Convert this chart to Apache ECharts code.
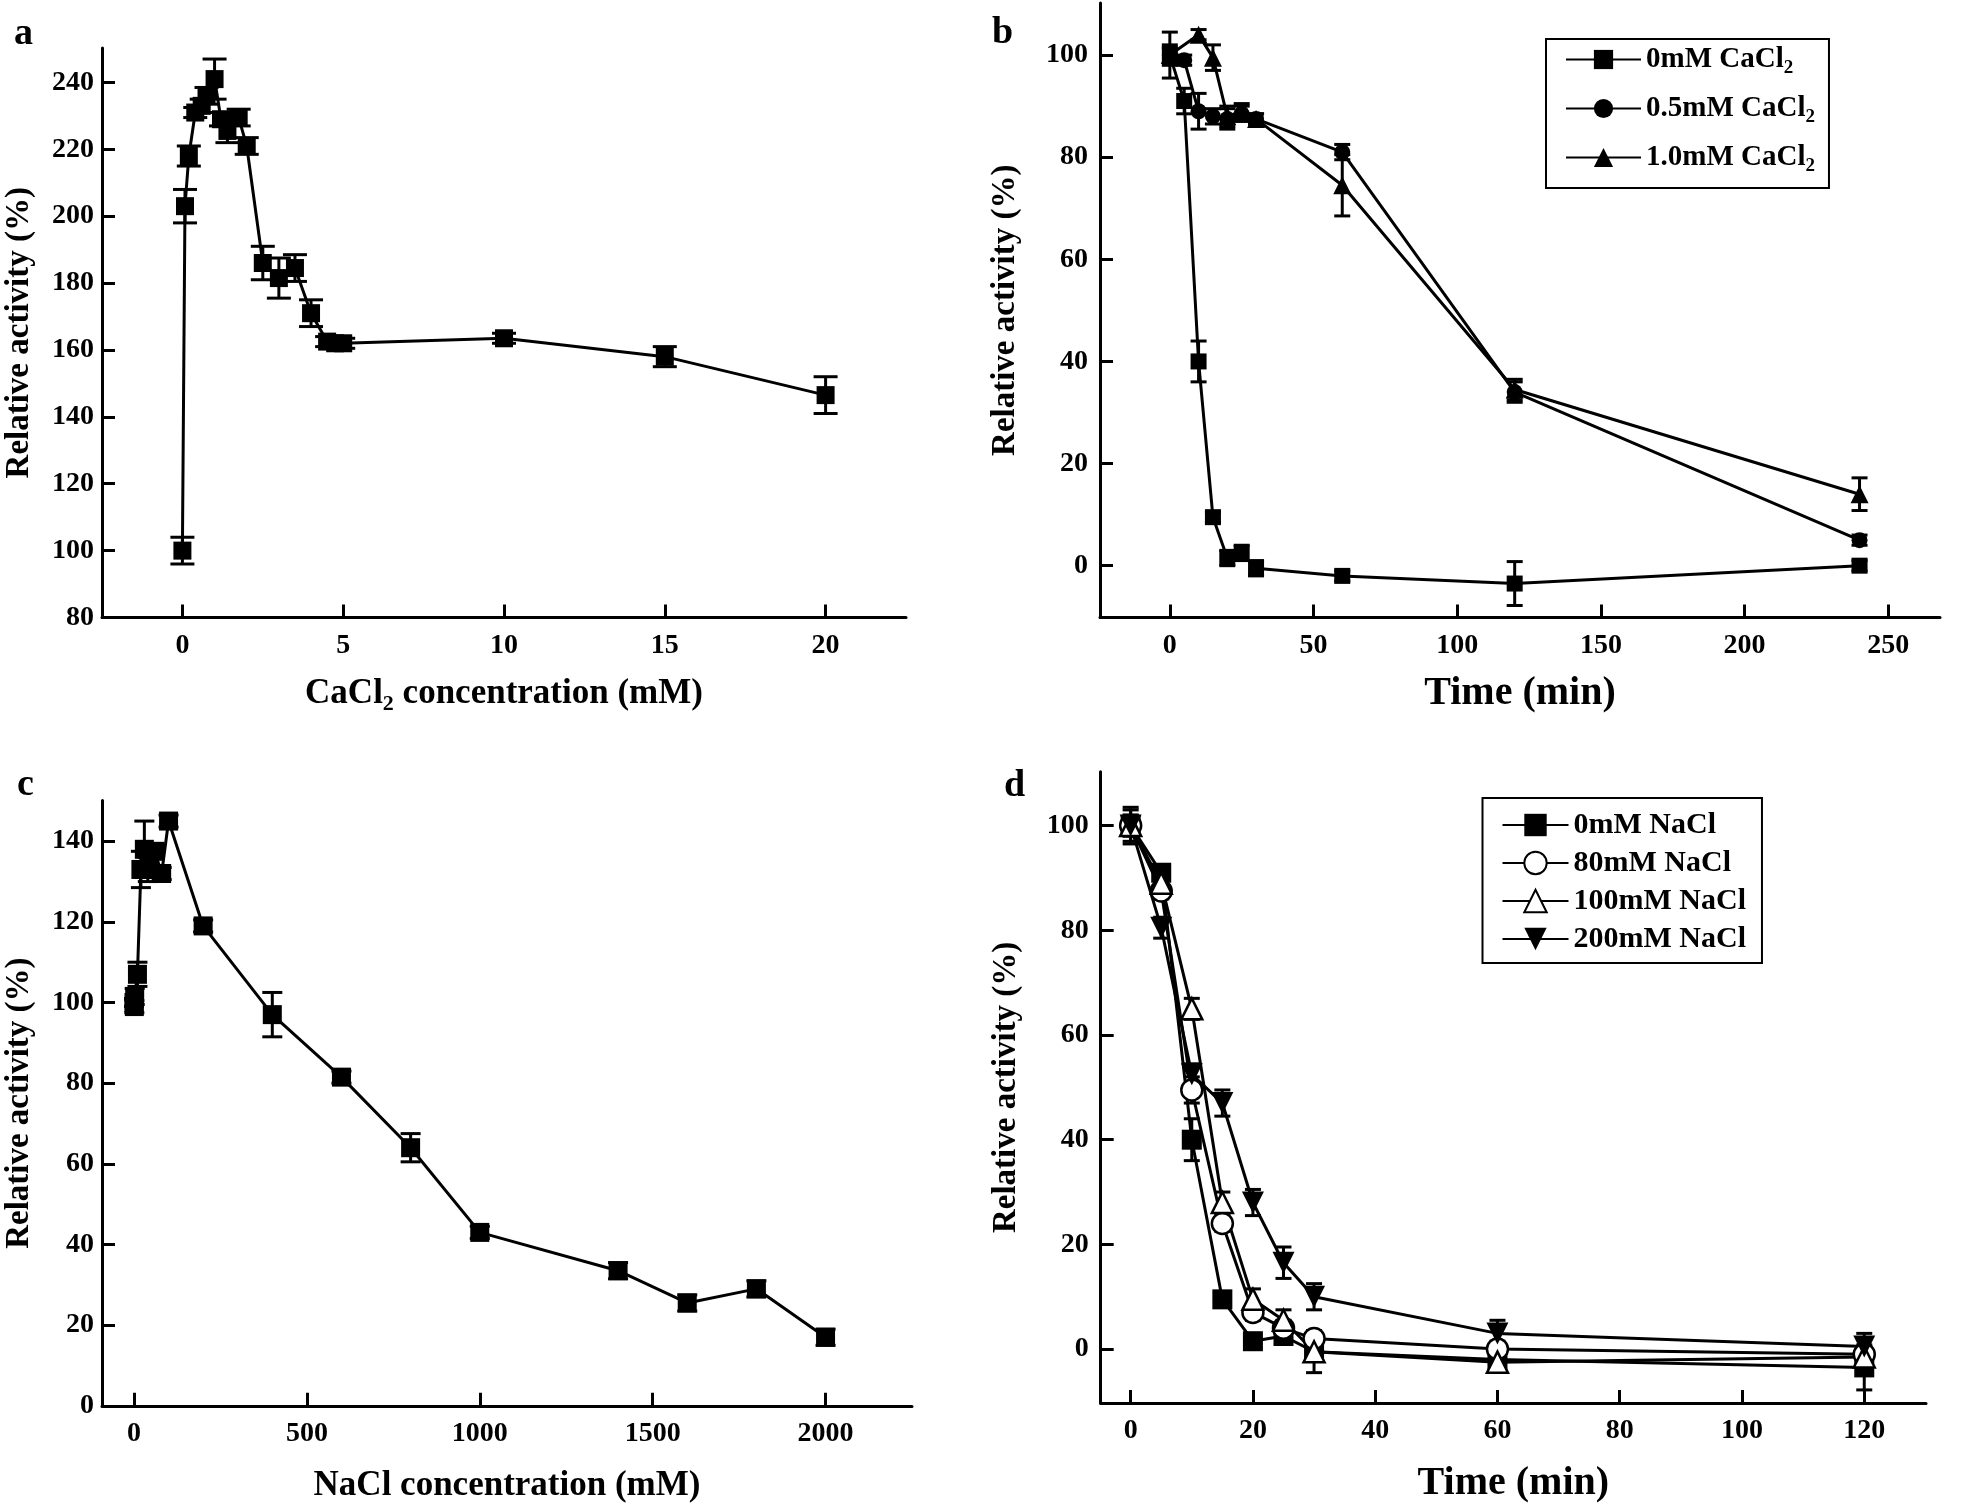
<!DOCTYPE html>
<html><head><meta charset="utf-8">
<script src="https://cdn.jsdelivr.net/npm/echarts@6/dist/echarts.min.js"></script>
<style>html,body{margin:0;padding:0;background:#fff}#c{width:1961px;height:1505px}</style>
</head><body><div id="c"></div>
<script>
// ---------- Panel a: CaCl2 concentration ----------
const caConc = [0, 0.08, 0.2, 0.4, 0.6, 0.75, 1.0, 1.2, 1.4, 1.75, 2.0, 2.5, 3.0, 3.5, 4.0, 4.5, 4.75, 5, 10, 15, 20];
const caActivity = [100, 203, 218, 231, 233, 236, 241, 229, 225.5, 229.5, 221, 186, 181.5, 184.5, 171, 162.5, 162, 162, 163.5, 158, 146.5];
const caErr = [4, 5, 3, 1.5, 2, 2.5, 6, 2, 3.5, 2.5, 2.5, 5, 6, 4, 4, 1.5, 1.5, 1.5, 1.5, 3, 5.5];
const aXTicks = [0, 5, 10, 15, 20];
const aYTicks = [80, 100, 120, 140, 160, 180, 200, 220, 240];

// ---------- Panel b: time course with CaCl2 ----------
const timeB = [0, 5, 10, 15, 20, 25, 30, 60, 120, 240];
const ca0Act = [100, 91, 40, 9.5, 1.5, 2.5, -0.5, -2, -3.5, 0];
const ca0Err = [4.5, 2.5, 4, 1, 1.5, 1.5, 1.5, 1, 4.3, 1];
const ca05Act = [100, 99, 89, 88, 87.5, 88.5, 87.5, 81, 34, 5];
const ca05Err = [1.5, 1, 3.5, 1.5, 2, 1.5, 1, 1.5, 2, 1];
const timeB10 = [0, 10, 15, 20, 25, 30, 60, 120, 240];
const ca10Act = [100, 104, 99.5, 88, 89, 87.5, 74.5, 34.5, 14];
const ca10Err = [2, 1, 2.5, 2, 1.5, 1, 6, 2, 3.2];
const bXTicks = [0, 50, 100, 150, 200, 250];
const bYTicks = [0, 20, 40, 60, 80, 100];

// ---------- Panel c: NaCl concentration ----------
const naConc = [0, 1, 2, 10, 20, 30, 40, 60, 80, 100, 200, 400, 600, 800, 1000, 1400, 1600, 1800, 2000];
const naActivity = [100, 99, 101.5, 107, 133, 138, 133, 137.5, 132, 145, 119, 97, 81.5, 64, 43, 33.5, 25.5, 29, 17];
const naErr = [1, 1.5, 2, 3, 4.5, 7, 3, 1.5, 1.5, 1.5, 1.5, 5.5, 1.5, 3.5, 1.5, 2, 2, 2, 2];
const cXTicks = [0, 500, 1000, 1500, 2000];
const cYTicks = [0, 20, 40, 60, 80, 100, 120, 140];

// ---------- Panel d: time course with NaCl ----------
const timeD = [0, 5, 10, 15, 20, 25, 30, 60, 120];
const na0Act = [100, 91, 40, 9.5, 1.5, 2.5, -0.5, -2, -3.5];
const na0Err = [3, 1.5, 4, 1, 1.5, 1.5, 1.5, 1, 4.3];
const na80Act = [100, 87.5, 49.5, 24, 7, 4, 2, 0, -1];
const na80Err = [2, 1.5, 2.5, 1.5, 1.5, 1.5, 1.5, 1.5, 1.5];
const na100Act = [100, 89, 65, 28, 9.5, 5.5, -0.5, -2.5, -1.5];
const na100Err = [2, 1.5, 2, 2, 2, 2, 4, 1.5, 1.5];
const na200Act = [100, 80.5, 52.5, 47, 28, 16.5, 10, 3, 0.5];
const na200Err = [3.5, 2, 2, 2.5, 2.5, 3, 2.5, 2.5, 2.5];
const dXTicks = [0, 20, 40, 60, 80, 100, 120];
const dYTicks = [0, 20, 40, 60, 80, 100];

const FONT = '"Liberation Serif", "Times New Roman", serif';
const pairs = (xs, ys) => xs.map((x, i) => [x, ys[i]]);
const triples = (xs, ys, es) => xs.map((x, i) => [x, ys[i], es[i]]);
const plain = v => String(v);

function xAx(gi, min, max, ticks, name, gap, nameSize) {
  return {
    gridIndex: gi, type: 'value', min, max,
    splitLine: { show: false },
    axisLine: { onZero: false, lineStyle: { color: '#000', width: 3 } },
    axisTick: { inside: true, length: 13, customValues: ticks, lineStyle: { color: '#000', width: 3 } },
    axisLabel: { customValues: ticks, formatter: plain, fontSize: 28, fontWeight: 'bold', fontFamily: FONT, color: '#000', margin: 14 },
    name, nameLocation: 'middle', nameGap: gap,
    nameTextStyle: { color: '#000', fontWeight: 'bold', fontFamily: FONT, fontSize: nameSize,
      rich: { n: { fontSize: nameSize, fontWeight: 'bold', fontFamily: FONT, color: '#000' },
              s: { fontSize: 22, fontWeight: 'bold', fontFamily: FONT, color: '#000', padding: [22, 0, 0, 0] } } }
  };
}
function yAx(gi, min, max, ticks, margin, gap) {
  return {
    gridIndex: gi, type: 'value', min, max,
    splitLine: { show: false },
    axisLine: { onZero: false, lineStyle: { color: '#000', width: 3 } },
    axisTick: { inside: true, length: 13, customValues: ticks, lineStyle: { color: '#000', width: 3 } },
    axisLabel: { customValues: ticks, formatter: plain, fontSize: 28, fontWeight: 'bold', fontFamily: FONT, color: '#000', margin },
    name: 'Relative activity (%)', nameLocation: 'middle', nameGap: gap,
    nameTextStyle: { color: '#000', fontWeight: 'bold', fontFamily: FONT, fontSize: 33 }
  };
}
function lineSeries(name, gi, data, symbol, size, open, rotate) {
  return {
    name, type: 'line', xAxisIndex: gi, yAxisIndex: gi, data,
    symbol, symbolSize: size, symbolRotate: rotate || 0,
    showAllSymbol: true, clip: false, z: 3,
    itemStyle: open ? { color: '#fff', borderColor: '#000', borderWidth: 2.5 } : { color: '#000' },
    lineStyle: { color: '#000', width: 3 },
    emphasis: { disabled: true }
  };
}
function errSeries(gi, data, cap) {
  return {
    type: 'custom', xAxisIndex: gi, yAxisIndex: gi, data, z: 2, silent: true,
    encode: { x: 0, y: 1 },
    renderItem(params, api) {
      const x = api.value(0), y = api.value(1), e = api.value(2);
      const t = api.coord([x, y + e]), b = api.coord([x, y - e]);
      const h = cap / 2, st = { stroke: '#000', lineWidth: 3 };
      return { type: 'group', children: [
        { type: 'line', shape: { x1: t[0], y1: t[1], x2: b[0], y2: b[1] }, style: st },
        { type: 'line', shape: { x1: t[0] - h, y1: t[1], x2: t[0] + h, y2: t[1] }, style: st },
        { type: 'line', shape: { x1: b[0] - h, y1: b[1], x2: b[0] + h, y2: b[1] }, style: st }
      ] };
    }
  };
}
function legendFmt(name) {
  const m = name.match(/^(.*CaCl)2$/);
  return m ? '{n|' + m[1] + '}{s|2}' : '{n|' + name + '}';
}

const chart = echarts.init(document.getElementById('c'));
chart.setOption({
  animation: false,
  backgroundColor: '#fff',
  grid: [
    { left: 102, top: 48, width: 804, height: 569.5 },
    { left: 1100, top: 3, width: 840, height: 614.5 },
    { left: 102, top: 800.5, width: 810, height: 605.3 },
    { left: 1100.7, top: 771.7, width: 825.3, height: 635.3 }
  ],
  xAxis: [
    xAx(0, -2.5, 22.5, aXTicks, '{n|CaCl}{s|2}{n| concentration (mM)}', 54, 35),
    xAx(1, -24.3, 268, bXTicks, 'Time (min)', 56, 40),
    xAx(2, -92.5, 2250, cXTicks, 'NaCl concentration (mM)', 63, 35),
    xAx(3, -4.9, 130.1, dXTicks, 'Time (min)', 61, 40)
  ],
  yAxis: [
    yAx(0, 80, 250.3, aYTicks, 8, 66),
    yAx(1, -10.15, 110.2, bYTicks, 12, 78),
    yAx(2, 0, 150.1, cYTicks, 8, 66),
    yAx(3, -10.3, 110.3, dYTicks, 12, 78)
  ],
  legend: [
    { data: ['0mM CaCl2', '0.5mM CaCl2', '1.0mM CaCl2'], orient: 'vertical',
      left: 1546, top: 39, padding: [6, 14, 12, 19], itemGap: 16,
      itemWidth: 75, itemHeight: 24, borderColor: '#000', borderWidth: 2,
      selectedMode: false, formatter: legendFmt,
      textStyle: { color: '#000', fontFamily: FONT, fontWeight: 'bold', fontSize: 29,
        rich: { n: { fontSize: 29, fontWeight: 'bold', fontFamily: FONT, color: '#000' },
                s: { fontSize: 19, fontWeight: 'bold', fontFamily: FONT, color: '#000', padding: [18, 0, 0, 0] } } } },
    { data: ['0mM NaCl', '80mM NaCl', '100mM NaCl', '200mM NaCl'], orient: 'vertical',
      left: 1482.5, top: 798, padding: [12, 16, 9, 19], itemGap: 8,
      itemWidth: 66, itemHeight: 28, borderColor: '#000', borderWidth: 2,
      selectedMode: false,
      textStyle: { color: '#000', fontFamily: FONT, fontWeight: 'bold', fontSize: 30 } }
  ],
  graphic: [
    { type: 'text', style: { x: 14, y: 53, text: 'a', font: 'bold 38px "Liberation Serif"', fill: '#000', verticalAlign: 'bottom' } },
    { type: 'text', style: { x: 992, y: 52, text: 'b', font: 'bold 38px "Liberation Serif"', fill: '#000', verticalAlign: 'bottom' } },
    { type: 'text', style: { x: 17, y: 804, text: 'c', font: 'bold 38px "Liberation Serif"', fill: '#000', verticalAlign: 'bottom' } },
    { type: 'text', style: { x: 1004, y: 805, text: 'd', font: 'bold 38px "Liberation Serif"', fill: '#000', verticalAlign: 'bottom' } }
  ],
  series: [
    errSeries(0, triples(caConc, caActivity, caErr), 24),
    lineSeries('CaCl2 activity', 0, pairs(caConc, caActivity), 'rect', 18, false),

    errSeries(1, triples(timeB, ca0Act, ca0Err), 16),
    errSeries(1, triples(timeB, ca05Act, ca05Err), 16),
    errSeries(1, triples(timeB10, ca10Act, ca10Err), 16),
    lineSeries('0mM CaCl2', 1, pairs(timeB, ca0Act), 'rect', 16, false),
    lineSeries('0.5mM CaCl2', 1, pairs(timeB, ca05Act), 'circle', 16, false),
    lineSeries('1.0mM CaCl2', 1, pairs(timeB10, ca10Act), 'triangle', 18, false),

    errSeries(2, triples(naConc, naActivity, naErr), 20),
    lineSeries('NaCl activity', 2, pairs(naConc, naActivity), 'rect', 19, false),

    errSeries(3, triples(timeD, na0Act, na0Err), 16),
    errSeries(3, triples(timeD, na80Act, na80Err), 16),
    errSeries(3, triples(timeD, na100Act, na100Err), 16),
    errSeries(3, triples(timeD, na200Act, na200Err), 16),
    lineSeries('0mM NaCl', 3, pairs(timeD, na0Act), 'rect', 20, false),
    lineSeries('80mM NaCl', 3, pairs(timeD, na80Act), 'circle', 21, true),
    lineSeries('100mM NaCl', 3, pairs(timeD, na100Act), 'triangle', 21, true),
    lineSeries('200mM NaCl', 3, pairs(timeD, na200Act), 'triangle', 22, false, 180)
  ]
});
</script></body></html>
